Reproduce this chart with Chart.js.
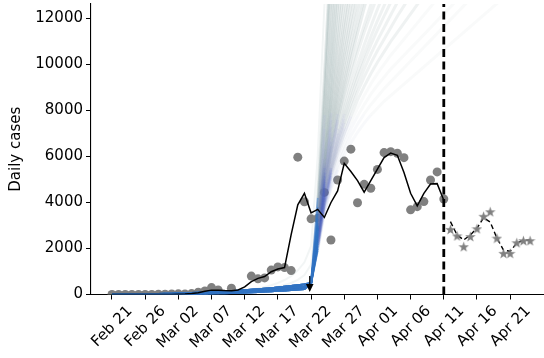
<!DOCTYPE html>
<html>
<head>
<meta charset="utf-8">
<script src="https://cdn.jsdelivr.net/npm/chart.js@4.4.1/dist/chart.umd.min.js"></script>
<style>
  html, body { margin: 0; padding: 0; background: #fff; }
</style>
</head>
<body>
<canvas id="myChart" width="544" height="358"></canvas>
<script>
// x values are days counted from Feb 21 (2020)
const tickDays = [0, 5, 10, 15, 20, 25, 30, 35, 40, 45, 50, 55, 60];
const tickLabels = ['Feb 21', 'Feb 26', 'Mar 02', 'Mar 07', 'Mar 12', 'Mar 17', 'Mar 22',
                    'Mar 27', 'Apr 01', 'Apr 06', 'Apr 11', 'Apr 16', 'Apr 21'];
const yTicks = [0, 2000, 4000, 6000, 8000, 10000, 12000];

// observed daily cases, day 0..50 (null = no point)
const observed = [0, 0, 0, 0, 0, 0, 0, 10, 10, 20, 30, 20, 40, 100, 150, 300, 200, null, 270, null,
                  null, 800, 680, 720, 1060, 1200, 1170, 1040, 5970, 4030, 3290, 3310, 4440, 2370, 4980,
                  5800, 6320, 3990, 4790, 4620, 5440, 6170, 6210, 6140, 5950, 3680, 3820, 4040, 4980,
                  5330, 4150];

// smoothed fit (black line), day 0..50
const fitted = [0, 0, 0, 0, 0, 0, 0, 0, 2, 5, 10, 20, 40, 80, 140, 190, 190, 170, 160, 200,
                330, 560, 700, 780, 990, 1110, 1170, 2600, 3900, 4400, 3550, 3700, 3350, 4000, 4500,
                5700, 5350, 4950, 4450, 4950, 5450, 5950, 6150, 6050, 5300, 4400, 3850, 4400, 4800,
                4820, 4100];

// later reported cases (stars) and forecast (dashed), day 51..63
const laterDays = [51, 52, 53, 54, 55, 56, 57, 58, 59, 60, 61, 62, 63];
const laterCases = [2830, 2550, 2080, 2520, 2860, 3400, 3600, 2450, 1790, 1790, 2250, 2340, 2340];
const forecast = [3170, 2590, 2370, 2590, 2880, 3340, 3150, 2450, 1930, 1880, 2240, 2360, 2360];

// simulated trajectories: early part, day 0..29
const preLow = [0, 1, 2, 3, 4, 5, 7, 9, 11, 14, 17, 21, 25, 30, 36, 43, 50, 58, 67, 77,
                88, 100, 113, 127, 142, 158, 176, 195, 215, 237];
const preMid = [0, 1, 3, 5, 7, 10, 13, 17, 21, 26, 32, 38, 45, 53, 62, 72, 83, 95, 108, 122,
                137, 153, 170, 188, 208, 230, 254, 280, 308, 340];
const preHigh = [0, 2, 4, 7, 10, 14, 18, 23, 29, 36, 44, 53, 63, 74, 86, 99, 113, 128, 145, 163,
                 182, 203, 225, 249, 275, 303, 333, 365, 400, 440];

// runs without intervention, day 30 onwards
const fastRuns = [
  [500, 4200, 9500, 15000],
  [480, 3800, 8500, 14000],
  [520, 3500, 7800, 12800, 18000],
  [500, 3300, 7200, 11500, 16000],
  [460, 3100, 6700, 10600, 14800],
  [540, 3000, 6300, 9800, 13500],
  [480, 3000, 5900, 9200, 12600, 16000],
  [500, 2900, 5600, 8600, 11600, 14600]
];
const midRuns = [
  [470, 3000, 5700, 8300, 10900, 13500],
  [520, 2900, 5500, 7900, 10300, 12700, 15000],
  [500, 2900, 5300, 7600, 9800, 11900, 14000],
  [480, 2800, 5150, 7300, 9400, 11400, 13300],
  [450, 2800, 5000, 7050, 9000, 10850, 12600, 14300],
  [500, 2700, 4900, 6850, 8700, 10400, 12000, 13500],
  [530, 2700, 4800, 6650, 8400, 10000, 11500, 12900],
  [500, 2600, 4700, 6450, 8100, 9600, 11000, 12300, 13500],
  [470, 2600, 4600, 6300, 7850, 9250, 10550, 11750, 12900],
  [540, 2500, 4550, 6150, 7600, 8950, 10200, 11350, 12450, 13500]
];
const slowRuns = [
  [480, 2500, 4500, 6100, 7500, 8700, 9800, 10800, 11700, 12600, 13400],
  [500, 2400, 4400, 5900, 7200, 8400, 9500, 10500, 11400, 12200, 13000],
  [480, 2400, 4300, 5750, 7000, 8100, 9100, 10000, 10850, 11650, 12400, 13100],
  [500, 2300, 4200, 5600, 6800, 7850, 8800, 9650, 10450, 11200, 11900, 12550, 13200],
  [520, 2300, 4150, 5500, 6650, 7650, 8550, 9400, 10150, 10850, 11500, 12100, 12700, 13300],
  [480, 2200, 4050, 5400, 6500, 7450, 8300, 9100, 9800, 10450, 11050, 11600, 12150, 12700, 13250],
  [500, 2200, 4000, 5300, 6350, 7250, 8050, 8800, 9450, 10050, 10600, 11100, 11600, 12100, 12550,
   13000],
  [520, 2100, 3900, 5150, 6150, 7000, 7750, 8450, 9050, 9600, 10100, 10550, 11000, 11400, 11800,
   12200, 12600, 13000]
];
const tailRuns = [
  [470, 2100, 3850, 5050, 6000, 6800, 7500, 8100, 8650, 9150, 9600, 10000, 10400, 10750, 11100,
   11450, 11800, 12150, 12500, 12850],
  [500, 2000, 3750, 4900, 5800, 6550, 7200, 7750, 8250, 8700, 9100, 9450, 9800, 10100, 10400,
   10700, 11000, 11300, 11600, 11900, 12200, 12500, 12800],
  [500, 2000, 3650, 4750, 5600, 6300, 6900, 7400, 7850, 8250, 8600, 8950, 9250, 9550, 9850,
   10150, 10450, 10750, 11050, 11350, 11650, 11950, 12250, 12550, 12850],
  [480, 1900, 3550, 4600, 5400, 6050, 6600, 7050, 7450, 7800, 8100, 8400, 8650, 8900, 9150,
   9400, 9650, 9900, 10150, 10400, 10650, 10900, 11150, 11400, 11650, 11900, 12150, 12400, 12650,
   12900]
];
// two runs that take off before the intervention, day 0..
const earlyA = [0, 1, 3, 5, 7, 10, 13, 17, 21, 26, 32, 38, 45, 53, 62, 72, 83, 95, 110, 128,
                150, 175, 205, 240, 285, 340, 410, 500, 640, 850, 1300, 4000, 9000, 15000];
const earlyB = [0, 1, 3, 5, 7, 10, 13, 17, 21, 26, 32, 38, 45, 53, 62, 72, 85, 100, 120, 145,
                175, 215, 265, 325, 400, 500, 630, 800, 1050, 1400, 2100, 6000, 12500, 20000];

const interventionDay = 29.8;   // arrow
const arrowFrom = 800, arrowTo = 110;
const cutoffDay = 50;           // Apr 11 dashed line

const xMin = -3.16, xMax = 65.1, yMax = 12630;

const toPoints = (vals, start) => vals.map((v, i) => ({ x: start + i, y: v }));

// star marker like matplotlib '*'
function makeStar(size, color) {
  const c = document.createElement('canvas');
  c.width = size; c.height = size;
  const g = c.getContext('2d');
  const r = size / 2, ri = r * 0.4;
  g.beginPath();
  for (let i = 0; i < 10; i++) {
    const a = -Math.PI / 2 + i * Math.PI / 5;
    const rr = i % 2 === 0 ? r : ri;
    g.lineTo(r + rr * Math.cos(a), r + 0.5 + rr * Math.sin(a));
  }
  g.closePath();
  g.fillStyle = color;
  g.fill();
  return c;
}
const starImg = makeStar(11, 'rgb(128,128,128)');

function runDataset(pre, run, weight) {
  return {
    data: toPoints(pre.concat(run), 0),
    pointRadius: 0,
    order: 5,
    segment: {
      borderColor: ctx => {
        const x1 = ctx.p1.parsed.x, y1 = ctx.p1.parsed.y;
        if (x1 <= 31) return 'rgba(50,115,195,0.5)';
        if (y1 < 5600) return `rgba(80,100,190,${0.32 * weight})`;
        if (y1 < 8000) return `rgba(110,130,170,${0.2 * weight})`;
        return `rgba(115,145,145,${0.17 * weight})`;
      },
      borderWidth: ctx => ctx.p1.parsed.x <= 31 ? 2 : 3
    }
  };
}

function earlyDataset(vals) {
  return {
    data: toPoints(vals, 0),
    borderWidth: 2,
    pointRadius: 0,
    order: 5,
    segment: {
      borderColor: ctx => ctx.p1.parsed.x <= 20 ? 'rgba(50,115,195,0.3)' : 'rgba(125,155,155,0.1)'
    }
  };
}

const pres = [preMid, preHigh, preLow];
const datasets = [];
datasets.push({
  data: toPoints(observed, 0).filter(p => p.y !== null),
  showLine: false,
  pointRadius: 4.5,
  pointBorderWidth: 0,
  pointBackgroundColor: 'rgb(128,128,128)',
  clip: 0,
  order: 10
});
fastRuns.forEach((r, i) => datasets.push(runDataset(pres[i % 3], r, 1)));
midRuns.forEach((r, i) => datasets.push(runDataset(pres[(i + 1) % 3], r, 0.9)));
slowRuns.forEach((r, i) => datasets.push(runDataset(pres[(i + 2) % 3], r, 0.7)));
tailRuns.forEach((r, i) => datasets.push(runDataset(pres[i % 3], r, 0.25)));
datasets.push(earlyDataset(earlyA));
datasets.push(earlyDataset(earlyB));
datasets.push({
  data: toPoints(fitted, 0),
  borderColor: '#000',
  borderWidth: 1.5,
  pointRadius: 0,
  order: 2
});
datasets.push({
  data: [{ x: cutoffDay, y: 0 }, { x: cutoffDay, y: yMax }],
  borderColor: '#000',
  borderWidth: 2.8,
  borderDash: [8, 4.5],
  pointRadius: 0,
  order: 1
});
datasets.push({
  data: laterDays.map((d, i) => ({ x: d, y: forecast[i] })),
  borderColor: '#000',
  borderWidth: 1.4,
  borderDash: [5, 3],
  pointRadius: 0,
  order: 1
});
datasets.push({
  data: laterDays.map((d, i) => ({ x: d, y: laterCases[i] })),
  showLine: false,
  pointStyle: starImg,
  pointRadius: 5,
  order: 0
});

const arrowPlugin = {
  id: 'arrow',
  afterDatasetsDraw(chart) {
    const { ctx, scales: { x, y } } = chart;
    const px = x.getPixelForValue(interventionDay);
    const y0 = y.getPixelForValue(arrowFrom);
    const y1 = y.getPixelForValue(arrowTo);
    ctx.save();
    ctx.strokeStyle = '#000';
    ctx.fillStyle = '#000';
    ctx.lineWidth = 1.2;
    ctx.beginPath();
    ctx.moveTo(px, y0);
    ctx.lineTo(px, y1 - 7);
    ctx.stroke();
    ctx.beginPath();
    ctx.moveTo(px - 3.8, y1 - 8);
    ctx.lineTo(px + 3.8, y1 - 8);
    ctx.lineTo(px, y1);
    ctx.closePath();
    ctx.fill();
    ctx.restore();
  }
};

const font = { family: 'DejaVu Sans', size: 15 };

new Chart(document.getElementById('myChart').getContext('2d'), {
  type: 'line',
  data: { datasets },
  options: {
    responsive: false,
    animation: false,
    events: [],
    layout: { autoPadding: false, padding: { top: 4, right: 0, left: 0, bottom: 0 } },
    plugins: { legend: { display: false }, tooltip: { enabled: false } },
    scales: {
      x: {
        type: 'linear',
        min: xMin,
        max: xMax,
        afterBuildTicks: s => { s.ticks = tickDays.map(v => ({ value: v })); },
        afterFit: s => { s.height = 63.5; s.paddingLeft = 0; s.paddingRight = 0; },
        ticks: {
          font,
          color: '#000',
          minRotation: 45,
          maxRotation: 45,
          padding: 3,
          labelOffset: 18,
          callback: v => tickLabels[tickDays.indexOf(v)]
        },
        grid: { drawOnChartArea: false, tickLength: 5, color: '#000', tickWidth: 1 },
        border: { color: '#000', width: 1.1 }
      },
      y: {
        min: 0,
        max: yMax,
        afterBuildTicks: s => { s.ticks = yTicks.map(v => ({ value: v })); },
        afterFit: s => { s.width = 91; s.paddingTop = 0; s.paddingBottom = 0; },
        ticks: { font, color: '#000', padding: 3, callback: v => String(v) },
        title: { display: true, text: 'Daily cases', font, color: '#000', padding: { top: 7, bottom: 0 } },
        grid: { drawOnChartArea: false, tickLength: 5, color: '#000', tickWidth: 1 },
        border: { color: '#000', width: 1.1 }
      }
    }
  },
  plugins: [arrowPlugin]
});
</script>
</body>
</html>
